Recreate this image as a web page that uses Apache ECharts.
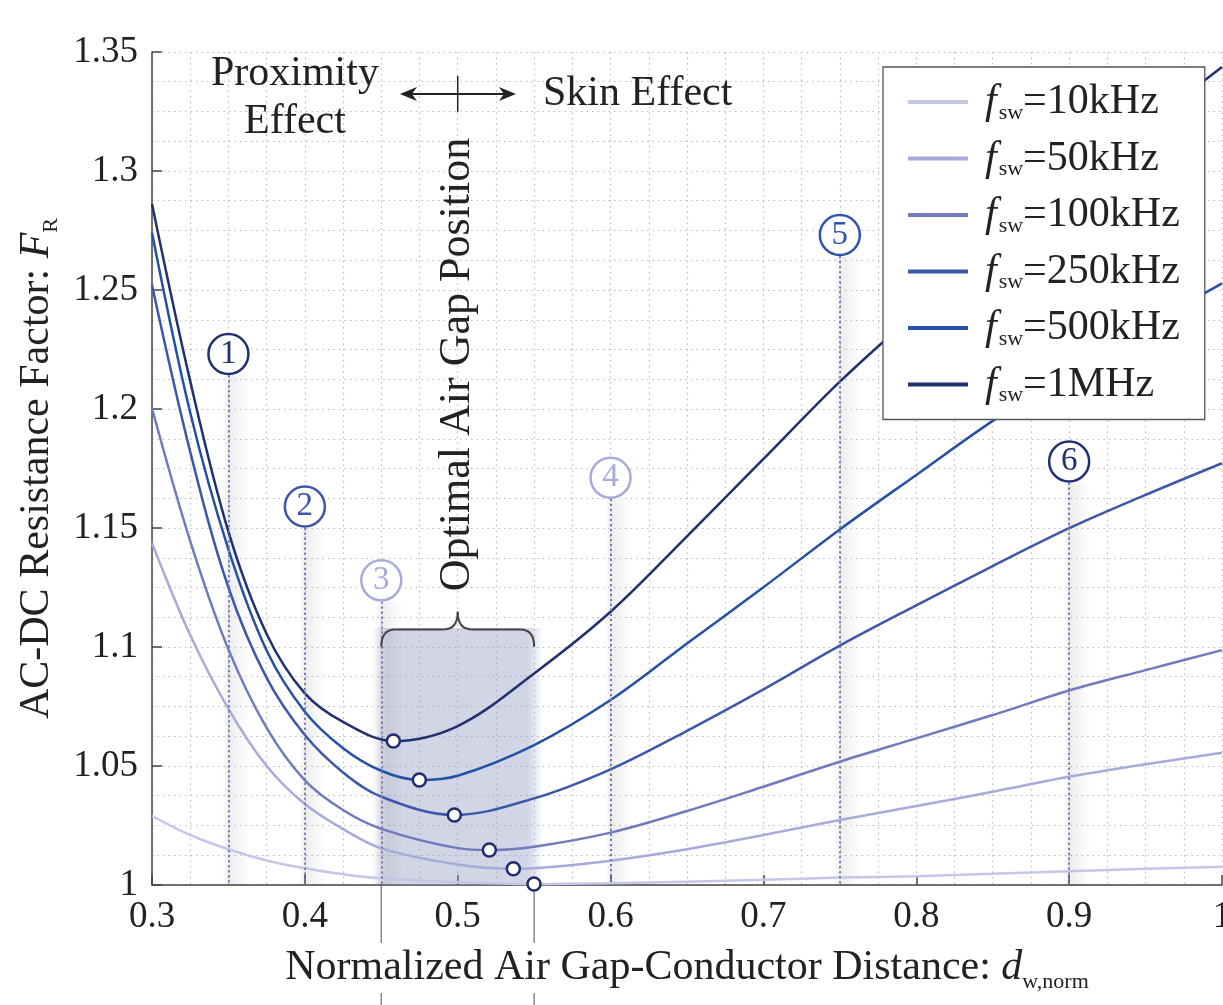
<!DOCTYPE html>
<html>
<head>
<meta charset="utf-8">
<script src="https://cdn.jsdelivr.net/npm/echarts@6/dist/echarts.min.js"></script>
<style>
html,body{margin:0;padding:0;background:#ffffff;}
#chart{width:1223px;height:1005px;}
</style>
</head>
<body>
<div id="chart"></div>
<script>
// ---------------- data ----------------
const xGrid = [0.3, 0.325, 0.35, 0.375, 0.4, 0.425, 0.45, 0.5, 0.55, 0.6, 0.65, 0.7, 0.75, 0.8, 0.85, 0.9, 0.95, 1.0];
const seriesNames = ['10kHz', '50kHz', '100kHz', '250kHz', '500kHz', '1MHz'];
const fr10kHz  = [1.0290, 1.0210, 1.0150, 1.0103, 1.0070, 1.0045, 1.0028, 1.0012, 1.0004, 1.0007, 1.0014, 1.0022, 1.0031, 1.0037, 1.0047, 1.0058, 1.0068, 1.0077];
const fr50kHz  = [1.1437, 1.1050, 1.0740, 1.0500, 1.0340, 1.0235, 1.0154, 1.0086, 1.0070, 1.0102, 1.0150, 1.0210, 1.0273, 1.0332, 1.0392, 1.0455, 1.0507, 1.0556];
const fr100kHz = [1.2003, 1.1445, 1.0990, 1.0660, 1.0440, 1.0315, 1.0236, 1.0155, 1.0161, 1.0220, 1.0311, 1.0413, 1.0518, 1.0616, 1.0714, 1.0817, 1.0903, 1.0987];
const fr250kHz = [1.2521, 1.1820, 1.1250, 1.0870, 1.0630, 1.0473, 1.0371, 1.0294, 1.0364, 1.0486, 1.0648, 1.0822, 1.1006, 1.1175, 1.1340, 1.1499, 1.1639, 1.1772];
const fr500kHz = [1.2741, 1.1985, 1.1410, 1.0985, 1.0728, 1.0575, 1.0480, 1.0459, 1.0588, 1.0777, 1.1015, 1.1251, 1.1494, 1.1723, 1.1950, 1.2155, 1.2345, 1.2528];
const fr1MHz   = [1.2861, 1.2117, 1.1485, 1.1055, 1.0805, 1.0685, 1.0618, 1.0668, 1.0889, 1.1148, 1.1465, 1.1790, 1.2115, 1.2405, 1.2680, 1.2940, 1.3190, 1.3437];
const optimumX  = [0.5499, 0.5364, 0.5207, 0.4978, 0.4749, 0.4579];
const optimumFR = [1.0004, 1.0068, 1.0147, 1.0294, 1.0441, 1.0605];

const markerIds = ['1', '2', '3', '4', '5', '6'];
const markerX   = [0.35, 0.40, 0.45, 0.60, 0.75, 0.90];
const markerFR  = [1.2231, 1.1590, 1.1280, 1.1711, 1.2731, 1.1779];

const optimalRange = [0.45, 0.55];
const optimalTopFR = 1.108;

// ---------------- styles ----------------
const SERIF = '"Liberation Serif", "Times New Roman", serif';
const INK = '#222222';
const seriesColors = ['#c4c7e5', '#a7abd9', '#6f7bbd', '#3d58a8', '#2451a6', '#21306f'];
const markerColors = ['#21306f', '#3d55a8', '#a7abd9', '#a7abd9', '#2f55aa', '#21306f'];
const GRIDLINE = { color: '#bdbdbd', type: [1.5, 4], width: 1.2 };
const WORD = 42, TICK = 37, SUB = 22;

const curves = [fr10kHz, fr50kHz, fr100kHz, fr250kHz, fr500kHz, fr1MHz];
function buildCurve(vals, ox, oy) {
  const pts = [];
  xGrid.forEach((x, i) => { if (Math.abs(x - ox) > 0.01) pts.push([x, vals[i]]); });
  pts.push([ox, oy]);
  pts.sort((a, b) => a[0] - b[0]);
  return pts;
}
const fmt = v => String(+(+v).toFixed(3));

const chart = echarts.init(document.getElementById('chart'), null, { renderer: 'canvas' });

const lineSeries = seriesNames.map((n, i) => ({
  name: n, type: 'line', data: buildCurve(curves[i], optimumX[i], optimumFR[i]),
  smooth: 0.35, symbol: 'none', showSymbol: false, z: 2,
  lineStyle: { color: seriesColors[i], width: 2.5 }, itemStyle: { color: seriesColors[i] }
}));

const bandGradient = () => new echarts.graphic.LinearGradient(0, 0, 1, 0, [
  { offset: 0, color: 'rgba(0,0,0,0)' },
  { offset: 0.25, color: 'rgba(0,0,0,0.07)' },
  { offset: 1, color: 'rgba(0,0,0,0)' }
]);
const shadeGradient = new echarts.graphic.LinearGradient(0, 0, 1, 0, [
  { offset: 0, color: 'rgba(140,150,190,0)' },
  { offset: 0.09, color: 'rgba(140,150,190,0.40)' },
  { offset: 0.91, color: 'rgba(140,150,190,0.40)' },
  { offset: 1, color: 'rgba(140,150,190,0)' }
]);

const areaData = [[
  { coord: [optimalRange[0] - 0.006, 1], itemStyle: { color: shadeGradient } },
  { coord: [optimalRange[1] + 0.006, optimalTopFR] }
]];
markerX.forEach((x, i) => {
  areaData.push([
    { coord: [x - 0.004, markerFR[i] - 0.009], itemStyle: { color: bandGradient() } },
    { coord: [x + 0.014, 1] }
  ]);
});

const option = {
  animation: false,
  backgroundColor: '#ffffff',
  grid: { left: 152, right: 1, top: 52, bottom: 120, containLabel: false, outerBoundsMode: 'none' },
  xAxis: {
    type: 'value', min: 0.3, max: 1, interval: 0.1,
    axisLine: { show: true, onZero: false, lineStyle: { color: '#444', width: 1.5 } },
    axisTick: { show: true, inside: true, length: 10, lineStyle: { color: '#444', width: 1.5 } },
    axisLabel: { color: INK, fontFamily: SERIF, fontSize: TICK, margin: 14, formatter: fmt },
    splitLine: { show: true, lineStyle: GRIDLINE },
    minorTick: { show: false, splitNumber: 4 },
    minorSplitLine: { show: true, lineStyle: GRIDLINE },
    name: '{a|Normalized Air Gap-Conductor Distance: }{i|d}{s|w,norm}',
    nameLocation: 'middle', nameGap: 58,
    nameTextStyle: {
      backgroundColor: '#ffffff',
      rich: {
        a: { fontFamily: SERIF, fontSize: WORD, color: INK, lineHeight: 50 },
        i: { fontFamily: SERIF, fontSize: WORD, fontStyle: 'italic', color: INK, lineHeight: 50 },
        s: { fontFamily: SERIF, fontSize: SUB, color: INK, lineHeight: 18, verticalAlign: 'bottom' }
      }
    }
  },
  yAxis: {
    type: 'value', min: 1, max: 1.35, interval: 0.05,
    axisLine: { show: true, onZero: false, lineStyle: { color: '#444', width: 1.5 } },
    axisTick: { show: true, inside: true, length: 10, lineStyle: { color: '#444', width: 1.5 } },
    axisLabel: { color: INK, fontFamily: SERIF, fontSize: TICK, margin: 14, formatter: fmt },
    splitLine: { show: true, lineStyle: GRIDLINE },
    minorTick: { show: false, splitNumber: 4 },
    minorSplitLine: { show: true, lineStyle: GRIDLINE },
    name: '{a|AC-DC Resistance Factor: }{i|F}{s|R}',
    nameLocation: 'middle', nameGap: 76,
    nameTextStyle: {
      rich: {
        a: { fontFamily: SERIF, fontSize: WORD, color: INK, lineHeight: 50 },
        i: { fontFamily: SERIF, fontSize: WORD, fontStyle: 'italic', color: INK, lineHeight: 50 },
        s: { fontFamily: SERIF, fontSize: SUB, color: INK, lineHeight: 20, verticalAlign: 'bottom' }
      }
    }
  },
  legend: {
    data: seriesNames, orient: 'vertical', left: 883, top: 67,
    padding: [14, 25, 13, 25], itemGap: 13.5, itemWidth: 60, itemHeight: 4, icon: 'rect',
    backgroundColor: '#ffffff', borderColor: '#555', borderWidth: 1.3, borderRadius: 0,
    formatter: n => '{f|f}{s|sw}{t|=' + n + '}',
    textStyle: {
      rich: {
        f: { fontFamily: SERIF, fontSize: WORD, fontStyle: 'italic', color: INK, lineHeight: 44, padding: [0, 2, 0, 12] },
        s: { fontFamily: SERIF, fontSize: SUB, color: INK, lineHeight: 10, verticalAlign: 'bottom' },
        t: { fontFamily: SERIF, fontSize: WORD, color: INK, lineHeight: 44 }
      }
    }
  },
  series: lineSeries.concat([
    {
      name: 'regions', type: 'line', data: [[0.3, 1]], symbol: 'none', z: 1,
      lineStyle: { opacity: 0 }, silent: true,
      markArea: { silent: true, data: areaData }
    },
    {
      name: 'optima', type: 'scatter', z: 6, symbol: 'circle', symbolSize: 13,
      data: optimumX.map((x, i) => [x, optimumFR[i]]),
      itemStyle: { color: '#ffffff', borderColor: '#1f2d6b', borderWidth: 2.5, opacity: 1 }
    },
    {
      name: 'points', type: 'scatter', z: 5, symbol: 'circle', symbolSize: 40,
      data: markerX.map((x, i) => ({
        value: [x, markerFR[i]],
        itemStyle: { borderColor: markerColors[i] },
        label: { color: markerColors[i] }
      })),
      itemStyle: { color: '#ffffff', borderWidth: 2.5, opacity: 1 },
      label: { show: true, position: 'inside', fontFamily: SERIF, fontSize: 33, formatter: p => markerIds[p.dataIndex] },
      markLine: {
        silent: true, symbol: ['none', 'none'], label: { show: false },
        lineStyle: { type: [2, 3], color: '#6d78b6', width: 2 },
        data: markerX.map((x, i) => [{ coord: [x, markerFR[i] - 0.0089] }, { coord: [x, 1] }])
      }
    }
  ])
};
chart.setOption(option);

// ---------------- annotations positioned via the chart's own scales ----------------
const px = (x, y) => chart.convertToPixel({ gridIndex: 0 }, [x, y]);
const H = chart.getHeight();
const g = [];
const font = (size, style) => (style ? style + ' ' : '') + size + 'px ' + SERIF;

optimalRange.forEach(x => {
  const p = px(x, 1);
  g.push({ type: 'line', z: -5, silent: true, shape: { x1: p[0], y1: p[1], x2: p[0], y2: H }, style: { stroke: '#8a8a8a', lineWidth: 1.5 } });
});

const prox = px(0.3935, 1.3305);
g.push({ type: 'text', x: prox[0], y: prox[1], z: 10, style: { text: 'Proximity\nEffect', font: font(WORD), fill: INK, align: 'center', verticalAlign: 'middle', lineHeight: 48 } });

const aL = px(0.4622, 1.3324), aR = px(0.5381, 1.3324), aM = px(0.5, 1.3324);
g.push({ type: 'line', z: 10, shape: { x1: aL[0] + 4, y1: aL[1], x2: aR[0] - 4, y2: aR[1] }, style: { stroke: INK, lineWidth: 2 } });
g.push({ type: 'polygon', z: 10, shape: { points: [[aL[0], aL[1]], [aL[0] + 17, aL[1] - 7], [aL[0] + 12, aL[1]], [aL[0] + 17, aL[1] + 7]] }, style: { fill: INK } });
g.push({ type: 'polygon', z: 10, shape: { points: [[aR[0], aR[1]], [aR[0] - 17, aR[1] - 7], [aR[0] - 12, aR[1]], [aR[0] - 17, aR[1] + 7]] }, style: { fill: INK } });
g.push({ type: 'line', z: 10, shape: { x1: aM[0], y1: aM[1] - 18, x2: aM[0], y2: aM[1] + 18 }, style: { stroke: INK, lineWidth: 1.5 } });

const skin = px(0.5558, 1.3324);
g.push({ type: 'text', x: skin[0], y: skin[1], z: 10, style: { text: 'Skin Effect', font: font(WORD), fill: INK, align: 'left', verticalAlign: 'middle' } });

const opt = px(0.5, 1.2187);
g.push({ type: 'text', x: opt[0], y: opt[1], rotation: Math.PI / 2, z: 10, style: { text: 'Optimal Air Gap Position', font: font(44), fill: INK, align: 'center', verticalAlign: 'middle' } });

// curly brace over the optimal range
const bL = px(optimalRange[0], 1.1001), bR = px(optimalRange[1], 1.1001);
const barY = px(0.5, 1.1074)[1], peak = px(0.5, 1.1148);
const bs = { stroke: '#444', lineWidth: 2, fill: 'none' };
g.push({ type: 'bezierCurve', z: 10, shape: { x1: bL[0], y1: bL[1], cpx1: bL[0], cpy1: barY, x2: bL[0] + 14, y2: barY }, style: bs });
g.push({ type: 'line', z: 10, shape: { x1: bL[0] + 14, y1: barY, x2: peak[0] - 14, y2: barY }, style: bs });
g.push({ type: 'bezierCurve', z: 10, shape: { x1: peak[0] - 14, y1: barY, cpx1: peak[0], cpy1: barY, x2: peak[0], y2: peak[1] }, style: bs });
g.push({ type: 'bezierCurve', z: 10, shape: { x1: peak[0], y1: peak[1], cpx1: peak[0], cpy1: barY, x2: peak[0] + 14, y2: barY }, style: bs });
g.push({ type: 'line', z: 10, shape: { x1: peak[0] + 14, y1: barY, x2: bR[0] - 14, y2: barY }, style: bs });
g.push({ type: 'bezierCurve', z: 10, shape: { x1: bR[0] - 14, y1: barY, cpx1: bR[0], cpy1: barY, x2: bR[0], y2: bR[1] }, style: bs });

chart.setOption({ graphic: { elements: g } });
</script>
</body>
</html>
